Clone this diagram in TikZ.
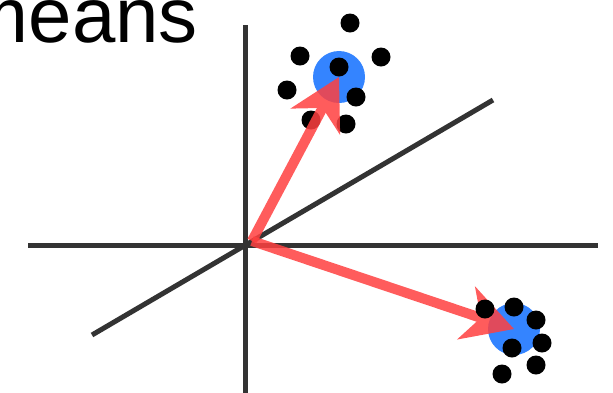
\documentclass[tikz,border=0pt]{standalone}
\usepackage{fontspec}
\setmainfont{Liberation Sans}
\usetikzlibrary{arrows.meta}
\definecolor{axisgray}{RGB}{51,51,51}
\definecolor{cblue}{RGB}{52,132,255}
\definecolor{vred}{RGB}{255,64,64}
\begin{document}
\begin{tikzpicture}[x=1pt,y=-1pt,
  axis/.style={draw=axisgray,line width=5pt},
  centroid/.style={circle,fill=cblue,minimum size=52pt,inner sep=0pt},
  pt/.style={circle,fill=black,minimum size=19pt,inner sep=0pt},
  vec/.style={draw=vred,line width=10pt,-{Stealth[length=50pt,width=55pt,inset=15pt]}}]
\useasboundingbox (0,0) rectangle (613,392);
\begin{scope}
\clip (0,0) rectangle (613,392);
\node[anchor=base east,inner sep=0pt,font=\fontsize{78}{84}\selectfont] (title) at (198,42) {means};
% axes
\coordinate (vt) at (245,25);
\coordinate (vb) at (245,395);
\coordinate (hl) at (28,245);
\coordinate (hr) at (598,245);
\coordinate (dl) at (92,335);
\coordinate (dr) at (493,100);
\draw[axis] (vt) -- (vb);
\draw[axis] (hl) -- (hr);
\draw[axis] (dl) -- (dr);
\coordinate (O) at (252,241);
% centroids
\node[centroid] (c1) at (339,77) {};
\node[centroid] (c2) at (514,329) {};
% upper cluster
\node[pt] (a1) at (350,23) {};
\node[pt] (a2) at (300,56) {};
\node[pt] (a3) at (381,57) {};
\node[pt] (a4) at (339,67) {};
\node[pt] (a5) at (287,90) {};
\node[pt] (a6) at (356,97) {};
\node[pt] (a7) at (311,120) {};
\node[pt] (a8) at (346,124) {};
% vectors
\begin{scope}[transparency group,opacity=0.85]
\draw[vec] (O) -- (c1.center);
\end{scope}
\begin{scope}[transparency group,opacity=0.85]
\draw[vec] (O) -- (c2.center);
\end{scope}
% lower cluster
\node[pt] (b1) at (485,309) {};
\node[pt] (b2) at (514,307) {};
\node[pt] (b3) at (536,320) {};
\node[pt] (b4) at (542,343) {};
\node[pt] (b5) at (512,348) {};
\node[pt] (b6) at (536,365) {};
\node[pt] (b7) at (502,374) {};
\end{scope}
\end{tikzpicture}
\end{document}
